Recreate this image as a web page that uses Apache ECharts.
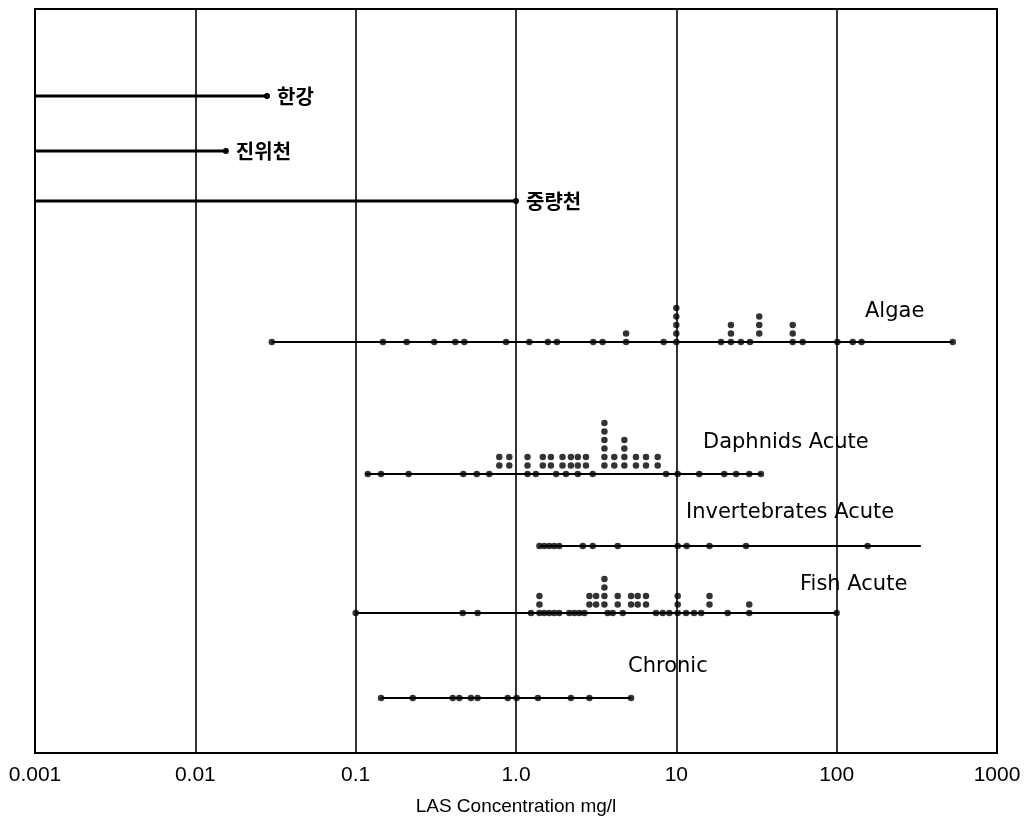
<!DOCTYPE html>
<html>
<head>
<meta charset="utf-8">
<script src="https://cdn.jsdelivr.net/npm/echarts@6/dist/echarts.min.js"></script>
<style>
html,body{margin:0;padding:0;background:#fff;}
#chart{width:1031px;height:816px;}
</style>
</head>
<body>
<div id="chart"></div>
<script>
// ---------- DATA ----------
const tickLabels = ['0.001', '0.01', '0.1', '1.0', '10', '100', '1000'];
const axisName = 'LAS Concentration mg/l';

// Korean river measurements (range from axis start to max value)
const riverNames = ['한강', '진위천', '중량천'];
const riverMax = [0.028, 0.0155, 1.0];

// Toxicity groups
const groupNames = ['Algae', 'Daphnids Acute', 'Invertebrates Acute', 'Fish Acute', 'Chronic'];
const groupLo = [0.030, 0.115, 1.40, 0.10, 0.144];
const groupHi = [530, 34, 335, 100, 5.22];

// dots: [concentration, stack level]
const algaeDots = [[0.030,0],[0.148,0],[0.208,0],[0.309,0],[0.418,0],[0.476,0],[0.867,0],[1.21,0],[1.58,0],[1.80,0],
  [3.03,0],[3.47,0],[4.86,0],[4.86,1],[8.34,0],[10,0],[10,1],[10,2],[10,3],[10,4],[19.0,0],[21.9,0],[21.9,1],[21.9,2],
  [25.3,0],[28.8,0],[32.9,1],[32.9,2],[32.9,3],[53.2,0],[53.2,1],[53.2,2],[61.4,0],[101,0],[126,0],[143,0],[530,0]];

const daphnidDots = [[0.119,0],[0.144,0],[0.214,0],[0.469,0],[0.569,0],[0.681,0],
  [0.787,1],[0.787,2],[0.908,1],[0.908,2],[1.18,0],[1.18,1],[1.18,2],[1.33,0],[1.47,1],[1.47,2],[1.65,1],[1.65,2],
  [1.78,0],[1.95,1],[1.95,2],[2.05,0],[2.20,1],[2.20,2],[2.43,0],[2.43,1],[2.43,2],[2.73,1],[2.73,2],[3.01,0],
  [3.56,1],[3.56,2],[3.56,3],[3.56,4],[3.56,5],[3.56,6],[4.10,1],[4.10,2],[4.74,1],[4.74,2],[4.74,3],[4.74,4],
  [5.60,1],[5.60,2],[6.47,1],[6.47,2],[7.65,1],[7.65,2],[8.63,0],[10.2,0],[13.9,0],[19.9,0],[23.6,0],[28.5,0],[33.7,0]];

const invertDots = [[1.40,0],[1.50,0],[1.61,0],[1.73,0],[1.86,0],[2.61,0],[3.01,0],[4.31,0],[10.2,0],[11.6,0],
  [16.1,0],[27.2,0],[156,0]];

const fishDots = [[0.10,0],[0.465,0],[0.576,0],[1.24,0],[1.40,0],[1.40,1],[1.40,2],[1.50,0],[1.61,0],[1.73,0],[1.86,0],
  [2.15,0],[2.31,0],[2.48,0],[2.67,0],[2.87,1],[2.87,2],[3.16,1],[3.16,2],[3.56,1],[3.56,2],[3.56,3],[3.56,4],
  [3.73,0],[4.01,0],[4.31,1],[4.31,2],[4.63,0],[5.22,1],[5.22,2],[5.74,1],[5.74,2],[6.47,1],[6.47,2],
  [7.47,0],[8.22,0],[9.04,0],[10.2,0],[10.2,1],[10.2,2],[11.5,0],[12.9,0],[14.3,0],[16.1,1],[16.1,2],
  [20.9,0],[28.5,0],[28.5,1],[100,0]];

const chronicDots = [[0.144,0],[0.227,0],[0.403,0],[0.443,0],[0.524,0],[0.576,0],[0.888,0],[1.01,0],[1.37,0],
  [2.20,0],[2.87,0],[5.22,0]];

// ---------- LAYOUT ----------
const riverRowY = [96, 151, 201];          // vertical placement of rows (pixel-scale y axis)
const groupRowY = [342, 474, 546, 613, 698];
const groupDots = [algaeDots, daphnidDots, invertDots, fishDots, chronicDots];
const stackStep = 8.5;
const groupLabelPos = [[865,313],[703,444],[686,514],[800,586],[628,668]];

const series = [];
riverNames.forEach((name, i) => {
  series.push({
    type: 'line', name: name, silent: true,
    data: [
      { value: [0.001, riverRowY[i]], symbol: 'none' },
      { value: [riverMax[i], riverRowY[i]], symbol: 'circle', symbolSize: 6 }
    ],
    lineStyle: { color: '#000', width: 3 },
    showSymbol: true,
    itemStyle: { color: '#000' },
    label: {
      show: true, position: 'right', distance: 7,
      formatter: p => p.dataIndex === 1 ? name : '',
      fontFamily: '"Noto Sans CJK KR", sans-serif', fontWeight: 'bold', fontSize: 20, color: '#000'
    },
    z: 3
  });
});
groupNames.forEach((name, i) => {
  series.push({
    type: 'line', name: name + ' range', silent: true,
    data: [[groupLo[i], groupRowY[i]], [groupHi[i], groupRowY[i]]],
    lineStyle: { color: '#000', width: 2 },
    symbol: 'none', z: 3
  });
  series.push({
    type: 'scatter', name: name, silent: true,
    data: groupDots[i].map(d => [d[0], groupRowY[i] - d[1] * stackStep]),
    symbol: 'circle', symbolSize: 6.5,
    itemStyle: { color: '#000' }, z: 4
  });
});

const chart = echarts.init(document.getElementById('chart'), null, { renderer: 'canvas' });
chart.setOption({
  animation: false,
  backgroundColor: '#fff',
  grid: {
    left: 35, right: 34, top: 9, bottom: 63, containLabel: false, outerBoundsMode: 'none',
    show: true, borderColor: '#000', borderWidth: 2, backgroundColor: 'transparent'
  },
  xAxis: {
    type: 'log', logBase: 10, min: 0.001, max: 1000,
    name: axisName, nameLocation: 'middle', nameGap: 44,
    nameTextStyle: { fontFamily: '"Liberation Sans", Arial, sans-serif', fontSize: 19, color: '#000' },
    axisLine: { show: true, lineStyle: { color: '#000', width: 2 } },
    axisTick: { show: false },
    splitLine: { show: true, lineStyle: { color: '#000', width: 1.6 } },
    minorTick: { show: false },
    axisLabel: {
      margin: 12, color: '#000', fontSize: 21,
      fontFamily: '"Liberation Sans", Arial, sans-serif',
      formatter: v => tickLabels[Math.round(Math.log10(v)) + 3]
    }
  },
  yAxis: {
    type: 'value', min: 9, max: 753, inverse: true, show: false,
    splitLine: { show: false }
  },
  graphic: groupNames.map((name, i) => ({
    type: 'text', left: groupLabelPos[i][0], top: groupLabelPos[i][1] - 12,
    style: { text: name, fill: '#000', font: '21px "DejaVu Sans", sans-serif' }
  })),
  series: series
});
</script>
</body>
</html>
